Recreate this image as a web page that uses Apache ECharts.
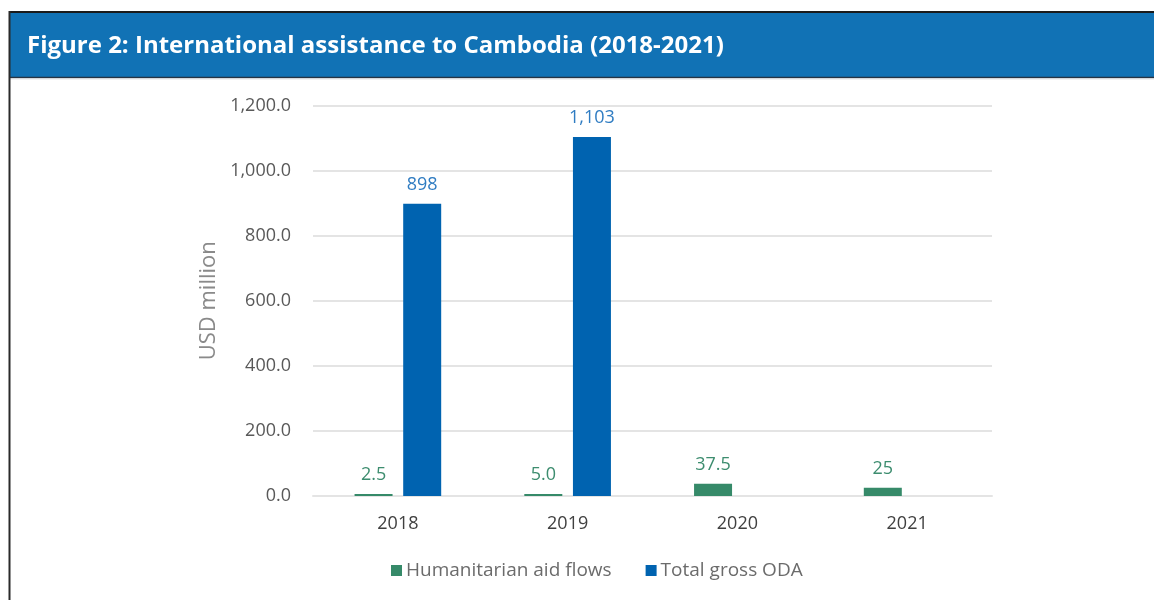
<!DOCTYPE html>
<html>
<head>
<meta charset="utf-8">
<script src="https://cdn.jsdelivr.net/npm/echarts@6/dist/echarts.min.js"></script>
<style>
  html, body { margin: 0; padding: 0; background: #ffffff; }
  #chart { width: 1154px; height: 600px; }
</style>
</head>
<body>
<div id="chart"></div>
<script>
// Chart data
const years = ['2018', '2019', '2020', '2021'];
const humanitarian = [2.5, 5.0, 37.5, 25];
const totalOda = [898, 1103, null, null];
const humanitarianLabels = ['2.5', '5.0', '37.5', '25'];
const odaLabels = ['898', '1,103', '', ''];
const yTicks = [0, 200, 400, 600, 800, 1000, 1200];

const FONT = '"Open Sans", "Noto Sans", sans-serif';
const GREEN = '#368a69';
const BLUE = '#0063b0';

const chart = echarts.init(document.getElementById('chart'), null, { renderer: 'canvas' });

chart.setOption({
  animation: false,
  textStyle: { fontFamily: FONT },
  graphic: [
    // header band
    { type: 'rect', z: 10, shape: { x: 10, y: 12, width: 1150, height: 66 }, style: { fill: '#1172b5' } },
    { type: 'line', z: 11, shape: { x1: 10, y1: 12, x2: 1160, y2: 12 }, style: { stroke: '#1b1b1b', lineWidth: 2 } },
    { type: 'line', z: 11, shape: { x1: 10, y1: 77.5, x2: 1160, y2: 77.5 }, style: { stroke: '#263444', lineWidth: 1.5 } },
    { type: 'line', z: 11, shape: { x1: 10, y1: 79, x2: 1160, y2: 79 }, style: { stroke: '#dfe3e6', lineWidth: 1 } },
    // left frame edge
    { type: 'line', z: 11, shape: { x1: 9.5, y1: 11, x2: 9.5, y2: 600 }, style: { stroke: '#2a2a2a', lineWidth: 2 } },
    {
      type: 'text', z: 12, left: 27, top: 34,
      style: {
        text: 'Figure 2: International assistance to Cambodia (2018-2021)',
        fill: '#ffffff', font: 'bold 24px ' + FONT
      }
    }
  ],
  grid: { left: 313, right: 162, top: 105.5, bottom: 104, containLabel: false },
  legend: {
    left: 386, top: 556,
    itemWidth: 11, itemHeight: 11, itemGap: 34,
    icon: 'rect',
    textStyle: { color: '#6b6b6b', fontSize: 19, fontFamily: FONT, padding: [0, 0, 0, -1] },
    data: ['Humanitarian aid flows', 'Total gross ODA']
  },
  xAxis: {
    type: 'category',
    data: years,
    axisLine: { show: true, lineStyle: { color: '#e4e4e4', width: 2 } },
    axisTick: { show: false },
    axisLabel: { color: '#404040', fontSize: 18, margin: 19, fontFamily: FONT }
  },
  yAxis: {
    type: 'value',
    min: 0, max: 1200, interval: 200,
    name: 'USD million',
    nameLocation: 'middle',
    nameGap: 92,
    nameTextStyle: { color: '#8a8a8a', fontSize: 22, fontFamily: FONT },
    axisLine: { show: false },
    axisTick: { show: false },
    splitLine: { lineStyle: { color: '#e4e4e4', width: 2 } },
    axisLabel: {
      color: '#595959', fontSize: 18, margin: 22, fontFamily: FONT,
      formatter: v => yTicks.includes(v) ? v.toLocaleString('en-US', { minimumFractionDigits: 1, maximumFractionDigits: 1 }) : ''
    }
  },
  series: [
    {
      name: 'Humanitarian aid flows',
      type: 'bar',
      data: humanitarian,
      barWidth: 38,
      barGap: '28%',
      barMinHeight: 2,
      itemStyle: { color: GREEN },
      label: {
        show: true, position: 'top', distance: 10,
        color: '#3d8d6f', fontSize: 18, fontFamily: FONT,
        formatter: p => humanitarianLabels[p.dataIndex]
      }
    },
    {
      name: 'Total gross ODA',
      type: 'bar',
      data: totalOda,
      barWidth: 38,
      itemStyle: { color: BLUE },
      label: {
        show: true, position: 'top', distance: 10,
        color: '#2f7cc2', fontSize: 18, fontFamily: FONT,
        formatter: p => odaLabels[p.dataIndex]
      }
    }
  ]
});
</script>
</body>
</html>
